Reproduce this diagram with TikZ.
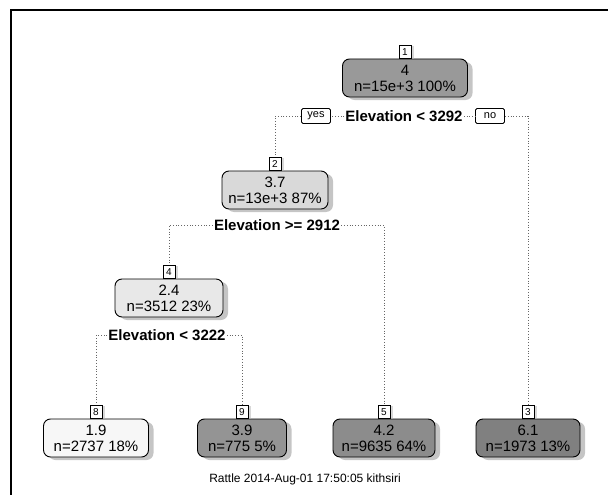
\documentclass[tikz,border=0pt]{standalone}
\usepackage{fontspec}
\setmainfont{Liberation Sans}
\usetikzlibrary{shadows}
\begin{document}
\begin{tikzpicture}[x=1pt,y=-1pt,
  tnode/.style={draw=black, line width=0.9pt, rounded corners=7pt, align=center,
    inner xsep=4pt, inner ysep=2pt, minimum height=38pt,
    font=\fontsize{15}{16}\selectfont,
    drop shadow={shadow xshift=5pt, shadow yshift=-3pt, fill=black!45}},
  idlab/.style={draw=black, line width=0.7pt, inner sep=1.5pt, minimum width=12pt,
    minimum height=13pt, font=\fontsize{10}{10}\selectfont, fill=white, anchor=south,
    drop shadow={shadow xshift=3pt, shadow yshift=-1pt, fill=black!30}},
  split/.style={font=\bfseries\fontsize{15}{15}\selectfont, inner sep=1pt},
  yn/.style={draw=black, line width=0.9pt, rounded corners=1.5pt,
    font=\fontsize{11}{11}\selectfont, minimum width=29pt, minimum height=15pt,
    inner sep=1pt, fill=white},
  conn/.style={draw=black!60, dotted, line width=0.8pt},
  caption/.style={font=\fontsize{12}{12}\selectfont}
]
\useasboundingbox (0,0) rectangle (608,495);
\draw[line width=2.2pt] (11,495) -- (11,10) -- (608,10);

% tree nodes
\node[tnode, fill=black!40, minimum width=125pt] (n1) at (405,78) {4\\n=15e+3 100\%};
\node[tnode, fill=black!15, minimum width=106pt] (n2) at (275,190) {3.7\\n=13e+3 87\%};
\node[tnode, fill=black!9,  minimum width=108pt] (n4) at (169,298) {2.4\\n=3512 23\%};
\node[tnode, fill=black!3,  minimum width=105pt] (n8) at (96,438)  {1.9\\n=2737 18\%};
\node[tnode, fill=black!42, minimum width=89pt]  (n9) at (242,438) {3.9\\n=775 5\%};
\node[tnode, fill=black!45, minimum width=102pt] (n5) at (384,438) {4.2\\n=9635 64\%};
\node[tnode, fill=black!50, minimum width=104pt] (n3) at (528,438) {6.1\\n=1973 13\%};

% node number labels
\node[idlab] (l1) at (n1.north) {1};
\node[idlab] (l2) at (n2.north) {2};
\node[idlab] (l4) at (n4.north) {4};
\node[idlab] (l8) at (n8.north) {8};
\node[idlab] (l9) at (n9.north) {9};
\node[idlab] (l5) at (n5.north) {5};
\node[idlab] (l3) at (n3.north) {3};

% splits
\node[split] (s1) at (404,116) {Elevation < 3292};
\node[yn] (yes) at (316,116) {yes};
\node[yn] (no) at (490,116) {no};
\node[split] (s2) at (277,225) {Elevation >= 2912};
\node[split] (s4) at (167,335) {Elevation < 3222};

% connectors
\draw[conn] (s1.west) -- (yes.east);
\draw[conn] (yes.west) -| (l2.north);
\draw[conn] (s1.east) -- (no.west);
\draw[conn] (no.east) -| (l3.north);
\draw[conn] (s2.west) -| (l4.north);
\draw[conn] (s2.east) -| (l5.north);
\draw[conn] (s4.west) -| (l8.north);
\draw[conn] (s4.east) -| (l9.north);

\node[caption] (cap) at (305,479) {Rattle 2014-Aug-01 17:50:05 kithsiri};
\end{tikzpicture}
\end{document}
